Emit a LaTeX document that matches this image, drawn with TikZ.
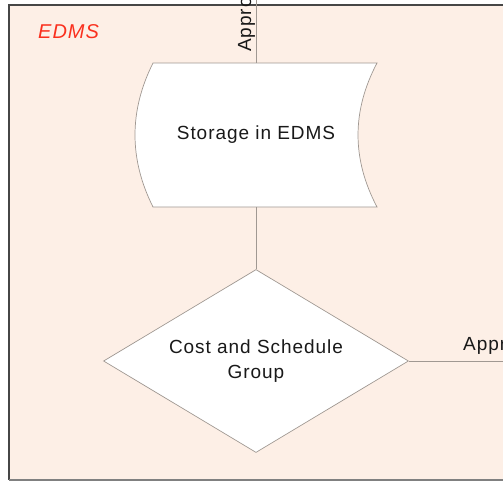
\documentclass[tikz,border=0pt]{standalone}
\usepackage{fontspec}
\setmainfont{Liberation Sans}[LetterSpace=5]
\usetikzlibrary{shapes.geometric}
\definecolor{lanebg}{RGB}{253,239,230}
\definecolor{laneedge}{RGB}{70,70,70}
\definecolor{shapeedge}{RGB}{160,152,146}
\definecolor{lanetitle}{RGB}{250,48,30}
\tikzset{
  flowtext/.style={font=\fontsize{19}{25}\selectfont, text=black!90, align=center},
  conn/.style={draw=shapeedge, line width=0.7pt},
  shapeline/.style={draw=shapeedge, line width=0.7pt, fill=white},
}
\begin{document}
\begin{tikzpicture}[x=1pt,y=-1pt]
  \useasboundingbox (0,0) rectangle (503,482);
  \clip (0,0) rectangle (503,482);
  % swimlane
  \fill[lanebg] (9,5) rectangle (520,480);
  \draw[laneedge, line width=1.6pt] (520,5) -- (9,5) -- (9,480);
  \draw[gray, line width=1.6pt] (9,480) -- (520,480);
  \node[anchor=base west, inner sep=0, font=\fontsize{20}{24}\selectfont\itshape, text=lanetitle] (lane) at (38,38) {EDMS};

  % stored data: outline first, then its text on top
  \path[shapeline] (153,63) -- (377,63)
    .. controls (351.7,111) and (351.7,159) .. (377,207)
    -- (153,207)
    .. controls (129,159) and (129,111) .. (153,63) -- cycle;
  \node[flowtext, minimum width=206pt, minimum height=144pt, inner sep=0] (storage) at (256,135) {Storage in EDMS};

  % decision
  \node[flowtext, diamond, shapeline, aspect=1.667, minimum width=305pt, minimum height=183pt, inner sep=0] (cost) at (256,361) {Cost and Schedule\\Group};

  % connectors
  \coordinate (in) at (256,-10);
  \coordinate (out) at (520,361);
  \draw[conn] (in) -- (storage.north);
  \draw[conn] (storage.south) -- (cost.north);
  \draw[conn] (cost.east) -- (out);

  % connector labels
  \node[rotate=90, anchor=base west, inner sep=0, font=\fontsize{19}{23}\selectfont, text=black!90] (lblin) at (251,52) {Appro};
  \node[anchor=base west, inner sep=0, font=\fontsize{19}{23}\selectfont, text=black!90] (lblout) at (463,350) {Appr};
\end{tikzpicture}
\end{document}
